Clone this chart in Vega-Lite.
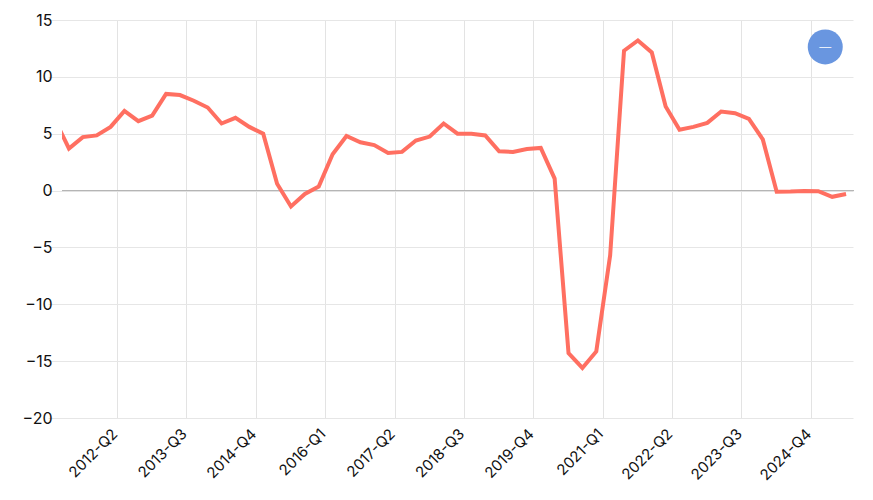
{"$schema":"https://vega.github.io/schema/vega-lite/v6.json","width":792,"height":398,"autosize":"none","padding":{"left":62,"top":20,"right":19,"bottom":82},"background":"white","config":{"view":{"stroke":null},"font":"Inter"},
"data":{"values":[
{"q":"2011-Q1","v":6.2},{"q":"2011-Q2","v":3.7},{"q":"2011-Q3","v":4.7},{"q":"2011-Q4","v":4.85},
{"q":"2012-Q1","v":5.6},{"q":"2012-Q2","v":7.0},{"q":"2012-Q3","v":6.1},{"q":"2012-Q4","v":6.6},
{"q":"2013-Q1","v":8.5},{"q":"2013-Q2","v":8.4},{"q":"2013-Q3","v":7.9},{"q":"2013-Q4","v":7.3},
{"q":"2014-Q1","v":5.9},{"q":"2014-Q2","v":6.4},{"q":"2014-Q3","v":5.6},{"q":"2014-Q4","v":5.0},
{"q":"2015-Q1","v":0.6},{"q":"2015-Q2","v":-1.4},{"q":"2015-Q3","v":-0.3},{"q":"2015-Q4","v":0.35},
{"q":"2016-Q1","v":3.2},{"q":"2016-Q2","v":4.8},{"q":"2016-Q3","v":4.25},{"q":"2016-Q4","v":4.0},
{"q":"2017-Q1","v":3.3},{"q":"2017-Q2","v":3.4},{"q":"2017-Q3","v":4.4},{"q":"2017-Q4","v":4.75},
{"q":"2018-Q1","v":5.9},{"q":"2018-Q2","v":5.0},{"q":"2018-Q3","v":5.0},{"q":"2018-Q4","v":4.85},
{"q":"2019-Q1","v":3.45},{"q":"2019-Q2","v":3.4},{"q":"2019-Q3","v":3.65},{"q":"2019-Q4","v":3.75},
{"q":"2020-Q1","v":1.05},{"q":"2020-Q2","v":-14.3},{"q":"2020-Q3","v":-15.6},{"q":"2020-Q4","v":-14.15},
{"q":"2021-Q1","v":-5.7},{"q":"2021-Q2","v":12.3},{"q":"2021-Q3","v":13.2},{"q":"2021-Q4","v":12.15},
{"q":"2022-Q1","v":7.4},{"q":"2022-Q2","v":5.35},{"q":"2022-Q3","v":5.6},{"q":"2022-Q4","v":5.95},
{"q":"2023-Q1","v":6.95},{"q":"2023-Q2","v":6.8},{"q":"2023-Q3","v":6.3},{"q":"2023-Q4","v":4.5},
{"q":"2024-Q1","v":-0.1},{"q":"2024-Q2","v":-0.08},{"q":"2024-Q3","v":-0.03},{"q":"2024-Q4","v":-0.05},
{"q":"2025-Q1","v":-0.55},{"q":"2025-Q2","v":-0.3}
]},
"layer":[
{"data":{"values":[{"z":0}]},"mark":{"type":"rule","color":"#b0b0b0","strokeWidth":1},"encoding":{"y":{"field":"z","type":"quantitative","title":null,"scale":{"domain":[-20,15],"nice":false},
"axis":{"values":[-20,-15,-10,-5,0,5,10,15],"ticks":false,"domain":false,"grid":true,"gridColor":"#e6e6e6","gridWidth":1,"labelFontSize":16,"labelColor":"#111","labelPadding":10}}}},
{"mark":{"type":"line","color":"#FF6F61","strokeWidth":4,"clip":true,"strokeJoin":"miter"},
"encoding":{
"x":{"field":"q","type":"ordinal","sort":null,"title":null,"scale":{"type":"band","paddingInner":0,"paddingOuter":0,"range":[-13.88,791]},
"axis":{"values":["2012-Q2","2013-Q3","2014-Q4","2016-Q1","2017-Q2","2018-Q3","2019-Q4","2021-Q1","2022-Q2","2023-Q3","2024-Q4"],"bandPosition":0,"labelAngle":-45,"labelAlign":"right","labelBaseline":"middle","labelFontSize":15,"labelColor":"#111","labelOffset":-9.5,"ticks":false,"domain":false,"grid":true,"gridColor":"#e3e3e3","gridWidth":1,"labelPadding":13,"labelOverlap":false}},
"y":{"field":"v","type":"quantitative","title":null}}},
{"data":{"values":[{"q":"2025-Q1","v":12.63,"t":"—"}]},"mark":{"type":"point","filled":true,"opacity":1,"color":"#6996E0","size":1225},"encoding":{"x":{"field":"q","type":"ordinal","bandPosition":0},"y":{"field":"v","type":"quantitative"}}},
{"data":{"values":[{"q":"2025-Q1","v":12.63,"t":"—"}]},"mark":{"type":"text","color":"#ffffff","fontSize":12,"fontWeight":300,"align":"center","baseline":"middle"},"encoding":{"x":{"field":"q","type":"ordinal","bandPosition":0},"y":{"field":"v","type":"quantitative"},"text":{"field":"t"}}}
]}
